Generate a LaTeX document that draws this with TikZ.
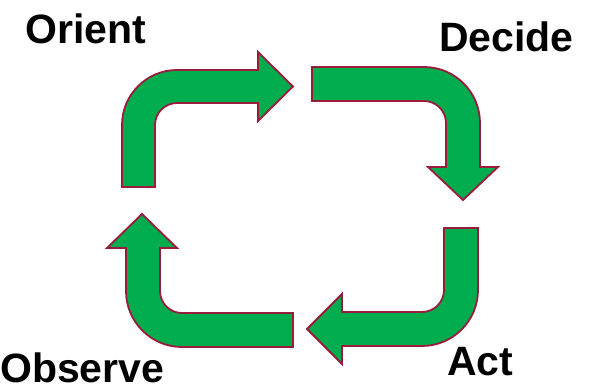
\documentclass[tikz,border=0pt]{standalone}
\usepackage{fontspec}
\setmainfont{Liberation Sans}
\definecolor{arrowgreen}{RGB}{0,173,78}
\definecolor{arrowedge}{RGB}{155,27,60}
\tikzset{
  bentarrow/.style={fill=arrowgreen, draw=arrowedge, line width=1.8pt, line join=miter},
  phase/.style={anchor=base west, inner sep=0pt, font=\fontsize{41}{45}\selectfont\bfseries}
}
\begin{document}
\begin{tikzpicture}[x=1pt,y=1pt]
\useasboundingbox (0,0) rectangle (590,391);
% Orient arrow (top-left)
\path[bentarrow] (122,204) -- (122,266) arc[start angle=180,end angle=90,radius=55] -- (258,321) -- (258,339) -- (293,304.5) -- (258,270) -- (258,288) -- (177,288) arc[start angle=90,end angle=180,radius=22] -- (155,204) -- cycle;
% Decide arrow (top-right)
\path[bentarrow] (312,324) -- (424,324) arc[start angle=90,end angle=0,radius=56] -- (480,224) -- (498,224) -- (463,191) -- (428,224) -- (446,224) -- (446,268) arc[start angle=0,end angle=90,radius=22] -- (312,290) -- cycle;
% Act arrow (bottom-right)
\path[bentarrow] (444,163) -- (444,101) arc[start angle=0,end angle=-90,radius=22] -- (342,79) -- (342,97) -- (307,62) -- (342,27) -- (342,45) -- (422,45) arc[start angle=-90,end angle=0,radius=56] -- (478,163) -- cycle;
% Observe arrow (bottom-left)
\path[bentarrow] (293,78) -- (182,78) arc[start angle=-90,end angle=-180,radius=22] -- (160,143) -- (177,143) -- (142,177) -- (107,143) -- (126,143) -- (126,100) arc[start angle=180,end angle=270,radius=56] -- (293,44) -- cycle;
% Labels
\node[phase] (orient) at (25,347) {Orient};
\node[phase] (decide) at (439,339) {Decide};
\node[phase] (observe) at (0,8) {Observe};
\node[phase] (act) at (447,15) {Act};
\end{tikzpicture}
\end{document}
